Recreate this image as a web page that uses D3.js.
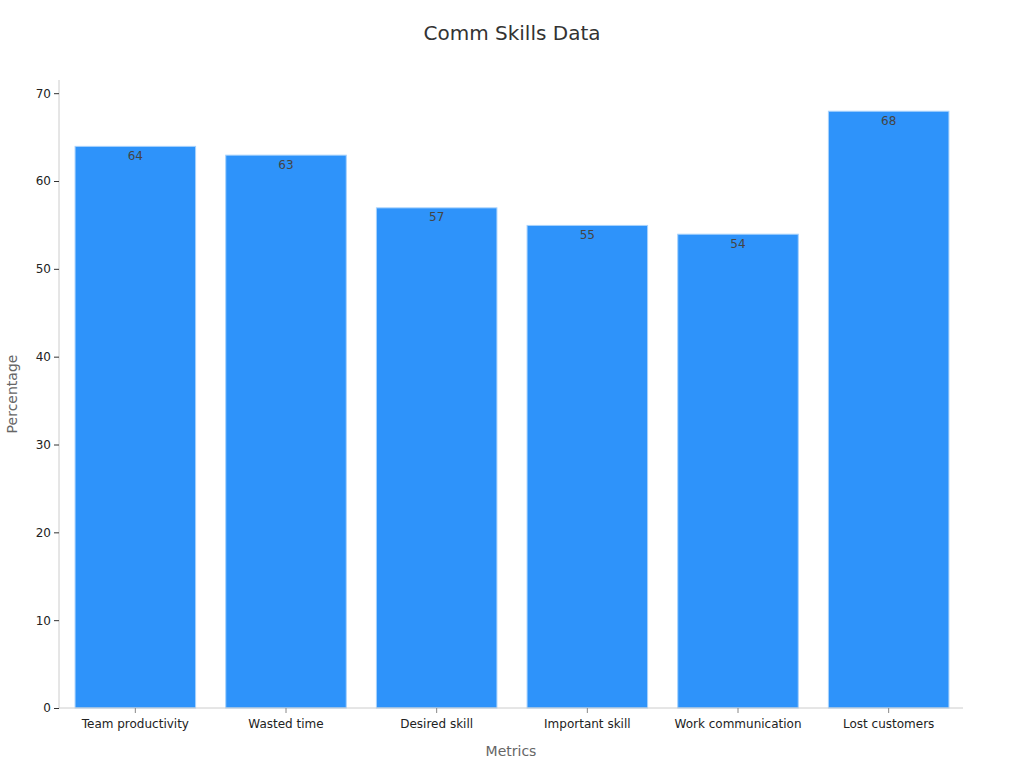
<!DOCTYPE html>
<html>
<head>
<meta charset="utf-8">
<script src="https://cdn.jsdelivr.net/npm/d3@7"></script>
<style>
  body { margin: 0; background: #fff; }
  text { font-family: "DejaVu Sans", sans-serif; }
</style>
</head>
<body>
<svg id="chart" width="1024" height="768"></svg>
<script>
// Data
const categories = ["Team productivity", "Wasted time", "Desired skill", "Important skill", "Work communication", "Lost customers"];
const values = [64, 63, 57, 55, 54, 68];
const yTicks = [0, 10, 20, 30, 40, 50, 60, 70];

const svg = d3.select("#chart");
const mLeft = 59, mRight = 963, mTop = 80, mBottom = 708;

const x = d3.scaleBand().domain(categories).range([mLeft + 1, mRight + 1]).paddingInner(0.2).paddingOuter(0.1);
const y = d3.scaleLinear().domain([0, 71.5]).range([mBottom, mTop]);

// title
svg.append("text")
  .attr("x", 512).attr("y", 40)
  .attr("text-anchor", "middle")
  .attr("font-size", 20)
  .attr("fill", "#333")
  .text("Comm Skills Data");

// bars
svg.append("g")
  .selectAll("rect")
  .data(values)
  .join("rect")
  .attr("x", (d, i) => x(categories[i]))
  .attr("y", d => y(d) + 0.5)
  .attr("width", x.bandwidth())
  .attr("height", d => y(0) - y(d) - 0.5)
  .attr("fill", "#2E93FA")
  .attr("stroke", "#a8d2fc")
  .attr("stroke-width", 1);

// value labels
svg.append("g")
  .selectAll("text")
  .data(values)
  .join("text")
  .attr("x", (d, i) => x(categories[i]) + x.bandwidth() / 2)
  .attr("y", d => y(d) + 14)
  .attr("text-anchor", "middle")
  .attr("font-size", 12)
  .attr("fill", "#444")
  .text(d => d);

// y axis
const yAxis = svg.append("g")
  .attr("transform", `translate(${mLeft},0)`)
  .call(d3.axisLeft(y).tickValues(yTicks).tickSize(5).tickPadding(3));
yAxis.select(".domain").attr("stroke", "#ccc").attr("d", `M0,${mTop}V${mBottom}`);
yAxis.selectAll(".tick line").attr("stroke", "#333");
yAxis.selectAll(".tick text").attr("font-size", 12).attr("fill", "#222").attr("font-family", "DejaVu Sans");

// x axis
const xAxis = svg.append("g")
  .attr("transform", `translate(0,${mBottom})`)
  .call(d3.axisBottom(x).tickSize(5).tickPadding(6));
xAxis.select(".domain").attr("stroke", "#ccc").attr("d", `M${mLeft},0H${mRight}`);
xAxis.selectAll(".tick line").attr("stroke", "#888");
xAxis.selectAll(".tick text").attr("font-size", 12).attr("fill", "#222").attr("font-family", "DejaVu Sans");

// axis titles
svg.append("text")
  .attr("x", (mLeft + mRight) / 2).attr("y", 756)
  .attr("text-anchor", "middle")
  .attr("font-size", 14)
  .attr("fill", "#666")
  .text("Metrics");

svg.append("text")
  .attr("transform", `translate(17,${(mTop + mBottom) / 2}) rotate(-90)`)
  .attr("text-anchor", "middle")
  .attr("font-size", 14)
  .attr("fill", "#666")
  .text("Percentage");
</script>
</body>
</html>
